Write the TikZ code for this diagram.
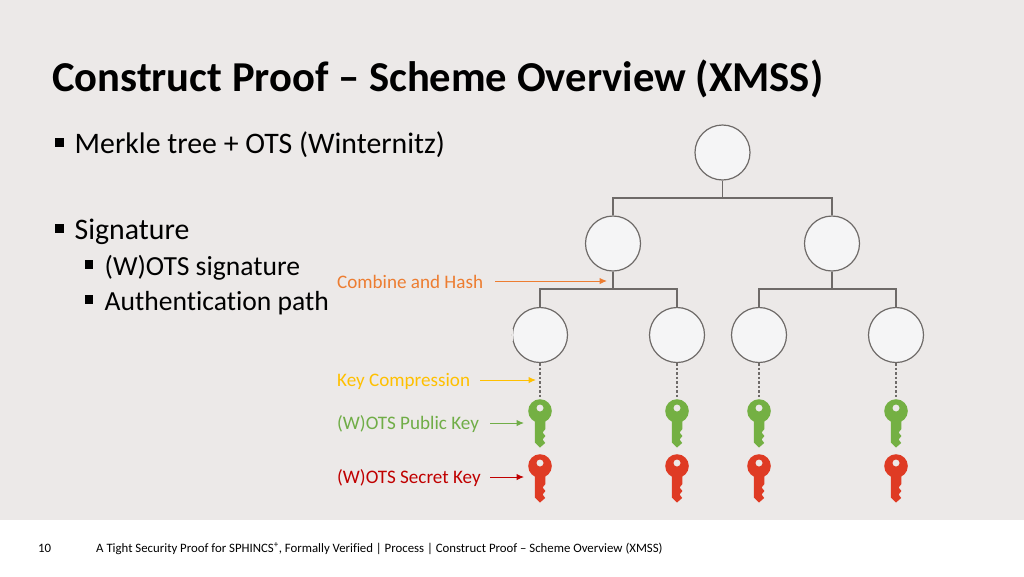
\documentclass[tikz,border=0pt]{standalone}
\usepackage{fontspec}
\setmainfont[Ligatures={NoCommon,TeX}]{Carlito}
\usetikzlibrary{arrows.meta}
\definecolor{bg}{HTML}{ECE9E8}
\definecolor{nodefill}{HTML}{F5F5F6}
\definecolor{treeline}{HTML}{6E6A68}
\definecolor{cOrange}{HTML}{ED7D31}
\definecolor{cYellow}{HTML}{FFC000}
\definecolor{cGreen}{HTML}{70AD47}
\definecolor{cRed}{HTML}{C00000}
\definecolor{keyGreen}{HTML}{74B043}
\definecolor{keyRed}{HTML}{DF3B24}
\tikzset{
  x=1pt,y=-1pt,
  hashnode/.style={circle,draw=treeline,line width=1.2pt,fill=nodefill,minimum size=55pt,inner sep=0pt},
  treeedge/.style={draw=treeline,line width=1.3pt},
  compress/.style={draw=treeline,line width=1.2pt,dash pattern=on 2.5pt off 2pt},
  lbl/.style={anchor=west,inner sep=0pt,font=\fontsize{19.1}{22}\selectfont},
  bullet1/.style={anchor=west,inner sep=0pt,font=\fontsize{29.8}{34}\selectfont},
  bullet2/.style={anchor=west,inner sep=0pt,font=\fontsize{27.6}{31}\selectfont},
  sq/.style={fill=black,draw=none,minimum size=#1,inner sep=0pt},
  callout/.style={-{Latex[length=7.5pt,width=6.5pt]},line width=1pt},
  keypic/.pic={
    \fill[even odd rule,pic actions]
      (0,0) circle[radius=11.8] (0,-3) circle[radius=3.6];
    \fill[pic actions]
      (-5.2,8) -- (-5.2,31.5) -- (0,36.5) -- (5.2,32) -- (2.6,28.5) -- (5.4,25) -- (2.6,21.5) -- (5.4,18) -- (5.2,8) -- cycle;
  }
}
\begin{document}
\begin{tikzpicture}
\useasboundingbox (0,0) rectangle (1024,576);
\fill[white] (0,0) rectangle (1024,576);
\fill[bg] (0,0) rectangle (1024,520);

\node[anchor=west,inner sep=0pt,font=\bfseries\fontsize{42.6}{46}\selectfont] (title) at (52,79) {Construct Proof – Scheme Overview (XMSS)};

\node[sq=9pt] (b1) at (59.5,142.5) {};
\node[bullet1] (t1) at (74.5,144.5) {Merkle tree + OTS (Winternitz)};
\node[sq=9pt] (b2) at (59.5,228) {};
\node[bullet1] (t2) at (74.5,231.5) {Signature};
\node[sq=8.5pt] (b3) at (89,264.5) {};
\node[bullet2] (t3) at (104.5,268) {(W)OTS signature};
\node[sq=8.5pt] (b4) at (89,299.5) {};
\node[bullet2] (t4) at (104.5,303) {Authentication path};

\node[hashnode] (root) at (722.5,152.5) {};
\node[hashnode] (n0) at (613,243.5) {};
\node[hashnode] (n1) at (832,243.5) {};
\node[hashnode] (l0) at (540,335) {};
\node[hashnode] (l1) at (677,335) {};
\node[hashnode] (l2) at (759,335) {};
\node[hashnode] (l3) at (896,335) {};
\fill[bg] (511.5,329) rectangle (513.2,341);

\coordinate (j0) at (722.5,198);
\coordinate (j1) at (613,289);
\coordinate (j2) at (832,289);
\draw[treeedge] (root.south) -- (j0);
\draw[treeedge] (n0.north) |- (j0);
\draw[treeedge] (n1.north) |- (j0);
\draw[treeedge] (n0.south) -- (j1);
\draw[treeedge] (n1.south) -- (j2);
\draw[treeedge] (l0.north) |- (j1);
\draw[treeedge] (l1.north) |- (j1);
\draw[treeedge] (l2.north) |- (j2);
\draw[treeedge] (l3.north) |- (j2);

\foreach \k/\x in {0/540,1/677,2/759,3/896}{
  \pic[fill=keyGreen] at (\x,411) {keypic};
  \pic[fill=keyRed] at (\x,466) {keypic};
  \coordinate (pk\k) at (\x,399);
  \draw[compress] (l\k.south) -- (pk\k);
}

\node[lbl,text=cOrange] (lc) at (337,281.5) {Combine and Hash};
\node[lbl,text=cYellow] (ly) at (337,381) {Key Compression};
\node[lbl,text=cGreen] (lg) at (337,424.5) {(W)OTS Public Key};
\node[lbl,text=cRed] (lr) at (337,478.5) {(W)OTS Secret Key};

\coordinate (sc) at (495,281);
\coordinate (ec) at (607,281);
\coordinate (sy) at (480,380);
\coordinate (ey) at (536,380);
\coordinate (sg) at (490,423);
\coordinate (eg) at (524,423);
\coordinate (sr) at (490,477);
\coordinate (er) at (524,477);
\draw[callout,cOrange] (sc) -- (ec);
\draw[callout,cYellow] (sy) -- (ey);
\draw[callout,cGreen] (sg) -- (eg);
\draw[callout,cRed] (sr) -- (er);

\node[anchor=west,inner sep=0pt,font=\fontsize{12.8}{14}\selectfont] (pg) at (38,548.5) {10};
\node[anchor=west,inner sep=0pt,font=\fontsize{12.8}{14}\selectfont] (foot) at (96,548.5) {A Tight Security Proof for SPHINCS\textsuperscript{+}, Formally Verified | Process | Construct Proof – Scheme Overview (XMSS)};
\end{tikzpicture}
\end{document}
